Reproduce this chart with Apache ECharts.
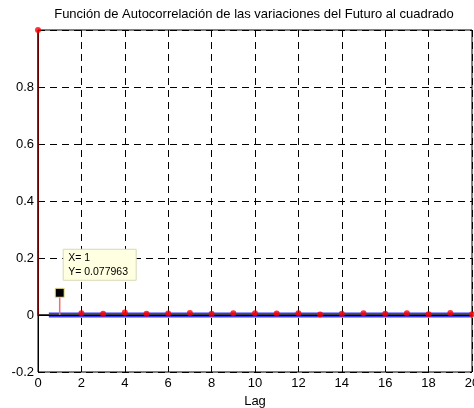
<!DOCTYPE html>
<html><head><meta charset="utf-8">
<script src="https://cdn.jsdelivr.net/npm/echarts@6/dist/echarts.min.js"></script>
<style>html,body{margin:0;padding:0;background:#fff}#c{width:474px;height:408px}</style>
</head><body><div id="c"></div>
<script>
var lags = [0,1,2,3,4,5,6,7,8,9,10,11,12,13,14,15,16,17,18,19,20];
var acf = [1,0.077963,0.006,0.004,0.009,0.004,0.005,0.007,0.004,0.006,0.006,0.005,0.006,0.002,0.004,0.006,0.004,0.006,0.003,0.007,0.003];
var bound = 0.0065;
var boundStart = 0.5, boundEnd = 20;
var tipLag = 1, tipValue = 0.077963;
var xTicks = {min:0, max:20, interval:2};
var yTicks = {min:-0.2, max:1, interval:0.2};
var titleText = 'Función de Autocorrelación de las variaciones del Futuro al cuadrado';
var xName = 'Lag';

var chart = echarts.init(document.getElementById('c'), null, {renderer:'canvas'});
var font = 'Liberation Sans, Arial, sans-serif';
var pts = lags.map(function(l,i){return [l, acf[i]];});
var stemColors = lags.map(function(l){return l===0?'#8b0000':(l===tipLag?'#f07070':'#ff0000');});

chart.setOption({
  animation:false,
  title:{text:titleText, left:249, top:3, textAlign:'center',
    textStyle:{fontFamily:font, fontSize:13, fontWeight:'normal', color:'#000'}},
  grid:{left:38, right:2, top:30, bottom:36, show:true, borderColor:'#000', borderWidth:1,
    containLabel:false, outerBoundsMode:'none'},
  xAxis:{type:'value', min:xTicks.min, max:xTicks.max, interval:xTicks.interval,
    name:xName, nameLocation:'middle', nameGap:22,
    nameTextStyle:{fontFamily:font, fontSize:13, color:'#000'},
    axisLine:{show:true, lineStyle:{color:'#000'}},
    axisTick:{show:false},
    axisLabel:{fontFamily:font, fontSize:13, color:'#000', margin:5},
    splitLine:{show:true, lineStyle:{color:'#000', type:[7,5], width:1}}},
  yAxis:{type:'value', min:yTicks.min, max:yTicks.max, interval:yTicks.interval,
    axisLine:{show:true, lineStyle:{color:'#000'}},
    axisTick:{show:false},
    axisLabel:{fontFamily:font, fontSize:13, color:'#000', margin:4,
      formatter:function(v){ if (Math.abs(v-1)<1e-9) return ''; var r=Math.round(v*10)/10; return String(r);}},
    splitLine:{show:true, lineStyle:{color:'#000', type:[7,5], width:1}}},
  series:[
    {type:'line', data:[[xTicks.min,0],[xTicks.max,0]], symbol:'none', silent:true,
      lineStyle:{color:'#000', width:1.5}, z:2},
    {type:'line', data:[[boundStart,bound],[boundEnd,bound]], symbol:'none', silent:true,
      lineStyle:{color:'#3a3aff', width:1.5}, z:3},
    {type:'line', data:[[boundStart,-bound],[boundEnd,-bound]], symbol:'none', silent:true,
      lineStyle:{color:'#3a3aff', width:1.5}, z:3},
    {type:'custom', data:pts, z:4, clip:false,
      renderItem:function(params, api){
        var x = api.value(0), y = api.value(1);
        var p0 = api.coord([x,0]), p1 = api.coord([x,y]);
        return {type:'line', shape:{x1:p0[0],y1:p0[1],x2:p1[0],y2:p1[1]},
          style:{stroke:stemColors[params.dataIndex], lineWidth:1.5}};
      }},
    {type:'scatter', data:pts.filter(function(p){return p[0]!==tipLag;}), symbol:'circle', symbolSize:6,
      itemStyle:{color:'#ff0000'}, z:5, clip:false},
    {type:'custom', data:[[tipLag, tipValue]], z:6, clip:false,
      renderItem:function(params, api){
        var p = api.coord([api.value(0), api.value(1)]);
        return {type:'group', children:[
          {type:'rect', shape:{x:p[0]-4.5, y:p[1]-4.5, width:9, height:9},
            style:{fill:'#000', stroke:'#f0e68c', lineWidth:1}},
          {type:'rect', shape:{x:p[0]+3.5, y:p[1]-43.5, width:73, height:31},
            style:{fill:'#ffffe1', stroke:'#d8d8b8', lineWidth:1}},
          {type:'text', style:{x:p[0]+8.5, y:p[1]-35, text:'X= 1', fill:'#000',
            font:'10.5px '+font, textVerticalAlign:'middle'}},
          {type:'text', style:{x:p[0]+8.5, y:p[1]-21, text:'Y= '+tipValue, fill:'#000',
            font:'10.5px '+font, textVerticalAlign:'middle'}}
        ]};
      }}
  ]
});
</script></body></html>
